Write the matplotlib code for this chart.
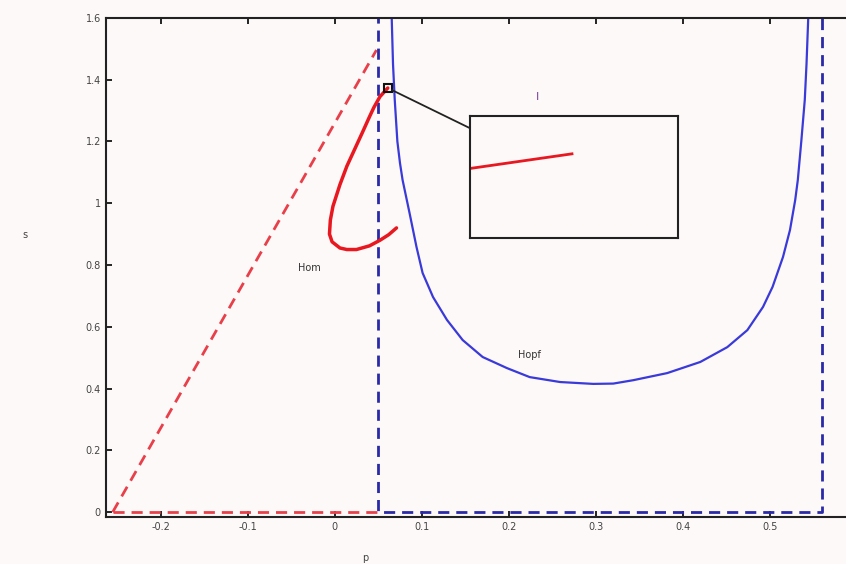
import numpy as np
import matplotlib
matplotlib.use("Agg")
import matplotlib.pyplot as plt
from matplotlib.patches import Rectangle, ConnectionPatch

# Hopf curve (blue, solid)
hopf_p = [0.0655, 0.067, 0.069, 0.072, 0.075, 0.078, 0.086, 0.094, 0.101, 0.113,
          0.129, 0.147, 0.170, 0.198, 0.224, 0.259, 0.297, 0.320, 0.343, 0.382,
          0.420, 0.451, 0.474, 0.492, 0.503, 0.515, 0.523, 0.529, 0.532, 0.536,
          0.540, 0.542, 0.544]
hopf_s = [1.60, 1.45, 1.334, 1.20, 1.13, 1.075, 0.968, 0.858, 0.774, 0.696,
          0.622, 0.557, 0.502, 0.466, 0.437, 0.421, 0.415, 0.416, 0.427, 0.45,
          0.486, 0.534, 0.589, 0.664, 0.729, 0.826, 0.913, 1.01, 1.075, 1.20,
          1.334, 1.45, 1.60]

# Homoclinic curve (red, solid)
hom_p = [0.061, 0.052, 0.045, 0.040, 0.032, 0.023, 0.014, 0.006, -0.002, -0.005,
         -0.006, -0.003, 0.006, 0.014, 0.025, 0.040, 0.052, 0.062, 0.071]
hom_s = [1.373, 1.345, 1.31, 1.28, 1.23, 1.175, 1.12, 1.06, 0.99, 0.945,
         0.90, 0.875, 0.855, 0.850, 0.850, 0.862, 0.88, 0.898, 0.92]

# red dashed boundaries
red_diag_p = [-0.255, 0.048]
red_diag_s = [0.0, 1.496]
red_base_p = [-0.255, 0.05]
red_base_s = [0.0, 0.0]

# blue dashed box
box_p = [0.05, 0.05, 0.56, 0.56]
box_s = [1.62, 0.0, 0.0, 1.62]

# zoomed segment shown in the inset (inset units)
inset_x = [0.0, 0.49]
inset_y = [0.57, 0.69]

xticks = [-0.2, -0.1, 0, 0.1, 0.2, 0.3, 0.4, 0.5]
xticklabels = ['-0.2', '-0.1', '0', '0.1', '0.2', '0.3', '0.4', '0.5']
yticks = [0, 0.2, 0.4, 0.6, 0.8, 1.0, 1.2, 1.4, 1.6]
yticklabels = ['0', '0.2', '0.4', '0.6', '0.8', '1', '1.2', '1.4', '1.6']

bg = '#fdf9f8'
fig = plt.figure(figsize=(8.46, 5.64), dpi=100, facecolor=bg)
ax = fig.add_axes([0.125, 0.0833, 0.888, 0.885], facecolor=bg)

ax.plot(red_diag_p, red_diag_s, color='#e8404a', lw=2, ls=(0, (4, 2.5)))
ax.plot(red_base_p, red_base_s, color='#e8404a', lw=2, ls=(0, (4, 2.5)))
ax.plot(box_p, box_s, color='#2a2aa8', lw=2, ls=(0, (4, 2.5)))
ax.plot(hopf_p, hopf_s, color='#3a3ad8', lw=1.6)
ax.plot(hom_p, hom_s, color='#e81820', lw=2.5, solid_capstyle='round')

ax.text(-0.029, 0.79, 'Hom', fontsize=7, color='#333333', ha='center', va='center')
ax.text(0.224, 0.51, 'Hopf', fontsize=7, color='#333333', ha='center', va='center')
ax.text(0.233, 1.344, 'I', fontsize=8, color='#7a3fa0', ha='center', va='center')

# small zoom square
sq_w, sq_h = 0.0092, 0.026
ax.add_patch(Rectangle((0.061 - sq_w / 2, 1.373 - sq_h / 2), sq_w, sq_h,
                       fill=False, ec='#111111', lw=1.5, zorder=5))

ax.set_xlim(-0.263, 0.6)
ax.set_ylim(-0.016, 1.6)
ax.set_xticks(xticks)
ax.set_xticklabels(xticklabels)
ax.set_yticks(yticks)
ax.set_yticklabels(yticklabels)
ax.tick_params(direction='in', top=True, right=True, labelsize=7,
               labelcolor='#444444', length=4, width=1.2)
for sp in ax.spines.values():
    sp.set_linewidth(1.5)
    sp.set_color('#222222')

ax.set_xlabel('p', fontsize=7, color='#444444')
ax.xaxis.set_label_coords(0.345, -0.072)
ax.set_ylabel('s', fontsize=7, color='#444444', rotation=0)
ax.yaxis.set_label_coords(-0.108, 0.555)

# inset
ins = fig.add_axes([0.5556, 0.578, 0.2459, 0.2163], facecolor=bg)
ins.plot(inset_x, inset_y, color='#e81820', lw=2)
ins.set_xlim(0, 1)
ins.set_ylim(0, 1)
ins.set_xticks([])
ins.set_yticks([])
for sp in ins.spines.values():
    sp.set_linewidth(1.5)
    sp.set_color('#222222')

con = ConnectionPatch(xyA=(0.061 + sq_w / 2, 1.373 - sq_h / 4), coordsA=ax.transData,
                      xyB=(0.0, 0.9), coordsB=ins.transAxes,
                      color='#222222', lw=1.3)
fig.add_artist(con)

fig.savefig('out.png', dpi=100, facecolor=bg)
